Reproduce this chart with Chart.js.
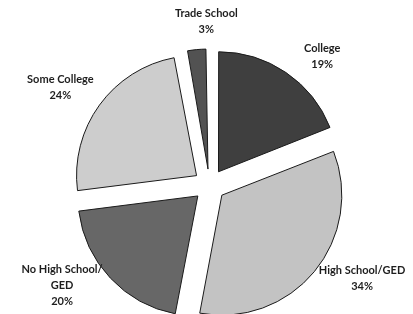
<!DOCTYPE html>
<html>
<head>
<meta charset="utf-8">
<script src="https://cdn.jsdelivr.net/npm/chart.js@4/dist/chart.umd.min.js"></script>
<style>
    html, body { margin: 0; padding: 0; background: #fff; overflow: hidden; }
    #wrap { width: 413px; height: 314px; overflow: hidden; }
</style>
</head>
<body>
<div id="wrap">
    <canvas id="pieChart" width="413" height="370"></canvas>
</div>
<script>
// Data
const categories = ['College', 'High School/GED', 'No High School/GED', 'Some College', 'Trade School'];
const labelLines = [['College'], ['High School/GED'], ['No High School/', 'GED'], ['Some College'], ['Trade School']];
const shares = [19, 34, 20, 24, 3];

// Slice shades (scanned greys)
const sliceColors = ['#3f3f3f', '#c3c3c3', '#676767', '#cdcdcd', '#525252'];

// Label placement tweaks relative to the mid-angle point
const labelNudge = [[16, 14], [20, -16], [-22, -17], [-10, 4], [13, 8]];

const EXPLODE = 64; // arcs are shifted by offset / 4

// Chart.js grows narrow exploded arcs; keep every slice at the same radius
const evenRadius = {
    id: 'evenRadius',
    beforeDatasetsDraw(chart) {
        const meta = chart.getDatasetMeta(0);
        const base = meta.controller.outerRadius;
        meta.data.forEach(arc => {
            const circ = arc.endAngle - arc.startAngle;
            const fix = 1 - Math.sin(Math.min(Math.PI, circ));
            arc.outerRadius = base - (EXPLODE / 4) * fix;
        });
    }
};

const outsideLabels = {
    id: 'outsideLabels',
    afterDatasetsDraw(chart) {
        const ctx = chart.ctx;
        const meta = chart.getDatasetMeta(0);
        const base = meta.controller.outerRadius;
        ctx.save();
        ctx.font = '700 11px Lato, "Open Sans", sans-serif';
        ctx.fillStyle = '#1e1e1e';
        ctx.textAlign = 'center';
        ctx.textBaseline = 'middle';
        meta.data.forEach((arc, i) => {
            const mid = (arc.startAngle + arc.endAngle) / 2;
            const r = base + 52;
            const x = arc.x + Math.cos(mid) * r + labelNudge[i][0];
            const y = arc.y + Math.sin(mid) * r + labelNudge[i][1];
            const lines = labelLines[i].concat([shares[i] + '%']);
            const lh = 16;
            const top = y - (lines.length - 1) * lh / 2;
            lines.forEach((t, k) => ctx.fillText(t, x, top + k * lh));
        });
        ctx.restore();
    }
};

const ctx = document.getElementById('pieChart').getContext('2d');
const pieChart = new Chart(ctx, {
    type: 'pie',
    data: {
        labels: categories,
        datasets: [{
            data: shares,
            backgroundColor: sliceColors,
            borderColor: '#1a1a1a',
            borderWidth: 1,
            offset: EXPLODE
        }]
    },
    options: {
        responsive: false,
        animation: false,
        radius: 120,
        layout: { padding: { left: 6, right: 0, top: 0, bottom: 0 } },
        plugins: {
            legend: { display: false },
            tooltip: { enabled: false }
        }
    },
    plugins: [evenRadius, outsideLabels]
});
</script>
</body>
</html>
